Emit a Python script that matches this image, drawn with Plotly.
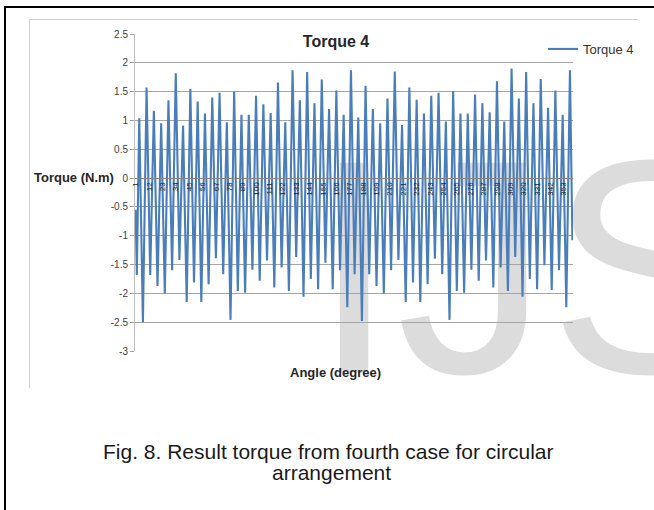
import plotly.graph_objects as go

# ---------------- data ----------------
start_angle = [1, 2]
start_torque = [-0.55, -1.68]

peak_angle = [4, 10, 16, 22, 28, 34, 40, 46, 52, 58, 64, 70, 76, 82, 88, 94, 100, 106, 112, 118,
              124, 130, 136, 142, 148, 154, 160, 166, 172, 178, 184, 190, 196, 202, 208, 214, 220,
              226, 232, 238, 244, 250, 256, 262, 268, 274, 280, 286, 292, 298, 304, 310, 316, 322,
              328, 334, 340, 346, 352, 358]
peak_torque = [1.04, 1.57, 1.17, 0.95, 1.35, 1.82, 0.91, 1.55, 1.33, 1.12, 1.40, 1.48, 0.97, 1.50,
               1.10, 1.10, 1.43, 1.28, 1.13, 1.66, 0.97, 1.87, 1.35, 1.84, 1.30, 1.71, 1.20, 1.52,
               1.10, 1.87,
               1.05, 1.60, 1.20, 0.95, 1.38, 1.85, 0.92, 1.57, 1.36, 1.12, 1.43, 1.48, 0.98, 1.51,
               1.12, 1.12, 1.45, 1.30, 1.14, 1.68, 0.98, 1.90, 1.38, 1.84, 1.30, 1.72, 1.22, 1.52,
               1.10, 1.87]

trough_angle = [7, 13, 19, 25, 31, 37, 43, 49, 55, 61, 67, 73, 79, 85, 91, 97, 103, 109, 115, 121,
                127, 133, 139, 145, 151, 157, 163, 169, 175, 181, 187, 193, 199, 205, 211, 217, 223,
                229, 235, 241, 247, 253, 259, 265, 271, 277, 283, 289, 295, 301, 307, 313, 319, 325,
                331, 337, 343, 349, 355]
trough_torque = [-2.50, -1.68, -1.87, -2.00, -1.60, -1.42, -2.15, -1.81, -2.15, -1.84, -1.39, -1.67,
                 -2.46, -1.96, -1.99, -1.59, -1.78, -1.43, -1.90, -1.55, -1.96, -1.37, -2.06, -1.75,
                 -1.93, -1.47, -1.93, -1.60, -2.24, -1.67,
                 -2.48, -1.67, -1.87, -2.00, -1.60, -1.42, -2.15, -1.81, -2.15, -1.84, -1.40, -1.67,
                 -2.46, -1.96, -1.99, -1.59, -1.78, -1.43, -1.90, -1.55, -1.96, -1.37, -2.06, -1.75,
                 -1.93, -1.51, -1.94, -1.60, -2.24]

end_angle = [360]
end_torque = [-1.08]

x_tick_vals = [1, 12, 23, 34, 45, 56, 67, 78, 89, 100, 111, 122, 133, 144, 155, 166, 177, 188, 199,
               210, 221, 232, 243, 254, 265, 276, 287, 298, 309, 320, 331, 342, 353]
x_tick_text = ["1", "12", "23", "34", "45", "56", "67", "78", "89", "100", "111", "122", "133", "144",
               "155", "166", "177", "188", "199", "210", "221", "232", "243", "254", "265", "276",
               "287", "298", "309", "320", "331", "342", "353"]
y_tick_vals = [-3, -2.5, -2, -1.5, -1, -0.5, 0, 0.5, 1, 1.5, 2, 2.5]
y_tick_text = ["-3", "-2.5", "-2", "-1.5", "-1", "-0.5", "0", "0.5", "1", "1.5", "2", "2.5"]

series_name = "Torque 4"
chart_title = "Torque 4"
x_title = "Angle (degree)"
y_title = "Torque (N.m)"
caption_1 = "Fig. 8. Result torque from fourth case for circular"
caption_2 = "arrangement"
watermark = "IJS"

# build the polyline
angles = list(start_angle)
torque = list(start_torque)
for i in range(len(peak_angle)):
    angles.append(peak_angle[i]); torque.append(peak_torque[i])
    if i < len(trough_angle):
        angles.append(trough_angle[i]); torque.append(trough_torque[i])
angles += end_angle
torque += end_torque

# ---------------- layout helpers ----------------
W, H = 654, 510
L, R, T, B = 135, 81, 34, 159


def px(x):
    return (x - L) / (W - L - R)


def py(y):
    return (H - B - y) / (H - T - B)


FONT = "Liberation Sans, Arial, sans-serif"
BLUE = "#4a7ebb"

fig = go.Figure()
fig.add_trace(go.Scatter(x=angles, y=torque, mode="lines", name=series_name,
                         line=dict(color=BLUE, width=2.1), showlegend=True))

shapes = [
    # outer black frame (left & top)
    dict(type="line", xref="paper", yref="paper", x0=px(5), x1=px(5), y0=py(6), y1=py(512),
         line=dict(color="black", width=2)),
    dict(type="line", xref="paper", yref="paper", x0=px(4), x1=px(656), y0=py(7), y1=py(7),
         line=dict(color="black", width=2)),
    # chart area border (light gray)
    dict(type="line", xref="paper", yref="paper", x0=px(29.5), x1=px(29.5), y0=py(19.5), y1=py(388),
         line=dict(color="#d0d0d0", width=1)),
    dict(type="line", xref="paper", yref="paper", x0=px(29.5), x1=px(638), y0=py(19.5), y1=py(19.5),
         line=dict(color="#d0d0d0", width=1)),
    # watermark
    dict(type="rect", xref="paper", yref="paper", x0=px(292), x1=px(772), y0=py(353), y1=py(123),
         line=dict(width=0), fillcolor="rgba(0,0,0,0)", layer="below",
         label=dict(text=watermark, textposition="middle center",
                    font=dict(size=305, color="#dcdcdc", family=FONT))),
]

annotations = [
    dict(text=y_title, xref="paper", yref="paper", x=px(73.5), y=py(177), xanchor="center",
         yanchor="middle", showarrow=False, font=dict(size=13, color="#262626", family=FONT, weight="bold")),
    dict(text=x_title, xref="paper", yref="paper", x=px(335), y=py(372), xanchor="center",
         yanchor="middle", showarrow=False, font=dict(size=13, color="#262626", family=FONT, weight="bold")),
    dict(text=caption_1, xref="paper", yref="paper", x=px(328), y=py(451), xanchor="center",
         yanchor="middle", showarrow=False, font=dict(size=21, color="#1a1a1a", family=FONT)),
    dict(text=caption_2, xref="paper", yref="paper", x=px(331), y=py(472), xanchor="center",
         yanchor="middle", showarrow=False, font=dict(size=21, color="#1a1a1a", family=FONT)),
]

fig.update_layout(
    width=W, height=H,
    margin=dict(l=L, r=R, t=T, b=B, pad=0),
    paper_bgcolor="white",
    plot_bgcolor="rgba(0,0,0,0)",
    title=dict(text=chart_title, x=px(336), xref="paper", xanchor="center",
               y=1 - 41 / H, yref="container", yanchor="middle",
               font=dict(size=16, color="#262626", family=FONT, weight="bold")),
    showlegend=True,
    legend=dict(x=px(543), y=py(49), xanchor="left", yanchor="middle", bgcolor="rgba(0,0,0,0)",
                font=dict(size=13, color="#333333", family=FONT), borderwidth=0),
    shapes=shapes,
    annotations=annotations,
    xaxis=dict(range=[0.5, 360.5], anchor="free", position=3 / 5.5,
               tickmode="array", tickvals=x_tick_vals, ticktext=x_tick_text, tickangle=-90,
               tickfont=dict(size=8, color="#262626", family=FONT),
               showline=True, linecolor="#868686", linewidth=1, showgrid=False, zeroline=False,
               ticks=""),
    yaxis=dict(range=[-3, 2.5], tickmode="array", tickvals=y_tick_vals, ticktext=y_tick_text,
               tickfont=dict(size=10, color="#404040", family=FONT),
               showline=True, linecolor="#bfbfbf", linewidth=1, ticks="outside", ticklen=4,
               tickcolor="#a0a0a0", showgrid=True, gridcolor="#a6a6a6", gridwidth=1,
               zeroline=False),
)

fig.write_html("out.html", config={"displayModeBar": False},
               post_script="document.body.style.margin='0';document.body.style.overflow='hidden';")
